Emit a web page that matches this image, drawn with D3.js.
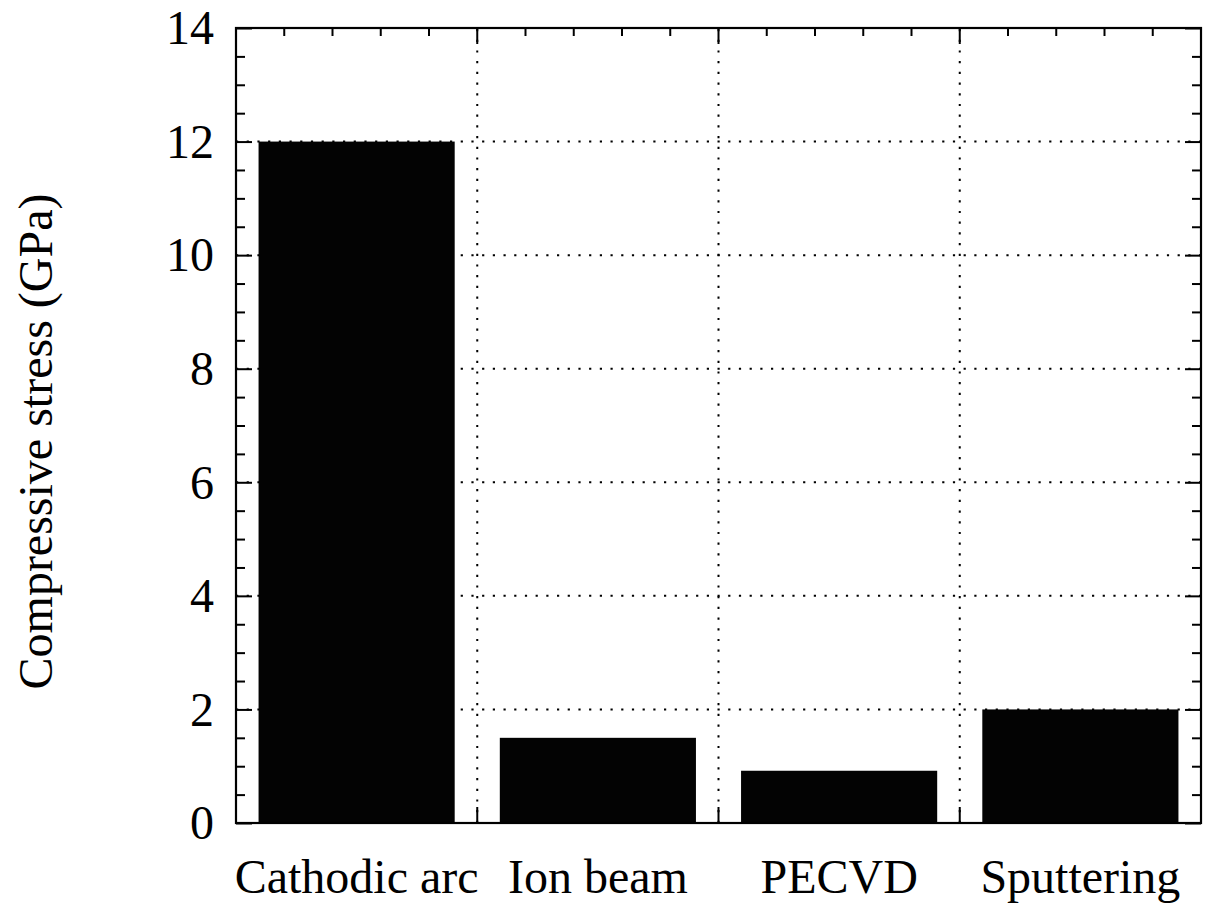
<!DOCTYPE html>
<html><head><meta charset="utf-8"><script src="https://cdn.jsdelivr.net/npm/d3@7"></script></head>
<body style="margin:0">
<svg id="chart" width="1208" height="907"></svg>
<script>
const categories = ["Cathodic arc", "Ion beam", "PECVD", "Sputtering"];
const values = [12, 1.5, 0.92, 2.0];
const yTicks = [0, 2, 4, 6, 8, 10, 12, 14];
const yMinorTicks = [0.5, 1, 1.5, 2.5, 3, 3.5, 4.5, 5, 5.5, 6.5, 7, 7.5, 8.5, 9, 9.5, 10.5, 11, 11.5, 12.5, 13, 13.5];
const yGrid = [2, 4, 6, 8, 10, 12];
const yLabel = "Compressive stress (GPa)";

const FONT = '"Liberation Serif"';
const svg = d3.select("#chart");
const pL = 236, pR = 1201, pT = 28, pB = 823;

const x = d3.scaleBand().domain(categories).range([pL, pR])
  .paddingInner(0.187).paddingOuter(0.0935);
const y = d3.scaleLinear().domain([0, 14]).range([pB, pT]);

const step = x.step();
const boundaries = categories.slice(1).map(c => x(c) - step * x.paddingInner() / 2);
const topMinor = d3.range(1, categories.length * 5).filter(k => k % 5 !== 0)
  .map(k => pL + k * step / 5);

const dash = "2.2,8.5";
svg.append("g").selectAll("line").data(yGrid).join("line")
  .attr("x1", pL).attr("x2", pR)
  .attr("y1", d => y(d)).attr("y2", d => y(d))
  .attr("stroke", "#000").attr("stroke-width", 2).attr("stroke-dasharray", dash);
svg.append("g").selectAll("line").data(boundaries).join("line")
  .attr("x1", d => d).attr("x2", d => d)
  .attr("y1", y(0)).attr("y2", y(14))
  .attr("stroke", "#000").attr("stroke-width", 2).attr("stroke-dasharray", dash);

svg.append("g").selectAll("rect").data(categories).join("rect")
  .attr("x", d => x(d)).attr("width", x.bandwidth())
  .attr("y", (d, i) => y(values[i]))
  .attr("height", (d, i) => y(0) - y(values[i]))
  .attr("fill", "#030303");

// left ticks (lines only)
function tickLines(axis, pos) {
  const g = svg.append("g").attr("transform", pos).call(axis);
  g.select(".domain").remove();
  g.selectAll("text").remove();
  g.selectAll("line").attr("stroke-width", 2);
}
tickLines(d3.axisLeft(y).tickValues(yTicks).tickSize(-16).tickFormat(""), `translate(${pL},0)`);
tickLines(d3.axisLeft(y).tickValues(yMinorTicks).tickSize(-9).tickFormat(""), `translate(${pL},0)`);
tickLines(d3.axisRight(y).tickValues(yTicks).tickSize(-16).tickFormat(""), `translate(${pR},0)`);
tickLines(d3.axisRight(y).tickValues(yMinorTicks).tickSize(-9).tickFormat(""), `translate(${pR},0)`);

// y tick labels
svg.append("g").selectAll("text").data(yTicks).join("text")
  .attr("x", pL - 22).attr("y", d => y(d)).attr("dy", "0.34em")
  .attr("text-anchor", "end")
  .style("font-family", FONT).style("font-size", "48px")
  .text(d => d);

// x labels
svg.append("g").selectAll("text").data(categories).join("text")
  .attr("x", d => x(d) + x.bandwidth() / 2).attr("y", pB + 70)
  .attr("text-anchor", "middle")
  .style("font-family", FONT).style("font-size", "48px")
  .text(d => d);

svg.append("g").selectAll("line").data(boundaries).join("line")
  .attr("x1", d => d).attr("x2", d => d)
  .attr("y1", pB).attr("y2", pB - 16)
  .attr("stroke", "#000").attr("stroke-width", 2);
svg.append("g").selectAll("line").data(boundaries).join("line")
  .attr("x1", d => d).attr("x2", d => d)
  .attr("y1", pT).attr("y2", pT + 16)
  .attr("stroke", "#000").attr("stroke-width", 2);
svg.append("g").selectAll("line").data(topMinor).join("line")
  .attr("x1", d => d).attr("x2", d => d)
  .attr("y1", pT).attr("y2", pT + 8)
  .attr("stroke", "#000").attr("stroke-width", 2);

svg.append("rect").attr("x", pL).attr("y", pT)
  .attr("width", pR - pL).attr("height", pB - pT)
  .attr("fill", "none").attr("stroke", "#000").attr("stroke-width", 2.2);

svg.append("text")
  .attr("transform", `translate(52,${(pT + pB) / 2 + 16}) rotate(-90)`)
  .attr("text-anchor", "middle")
  .style("font-family", FONT).style("font-size", "48px")
  .text(yLabel);
</script>
</body>
</html>
